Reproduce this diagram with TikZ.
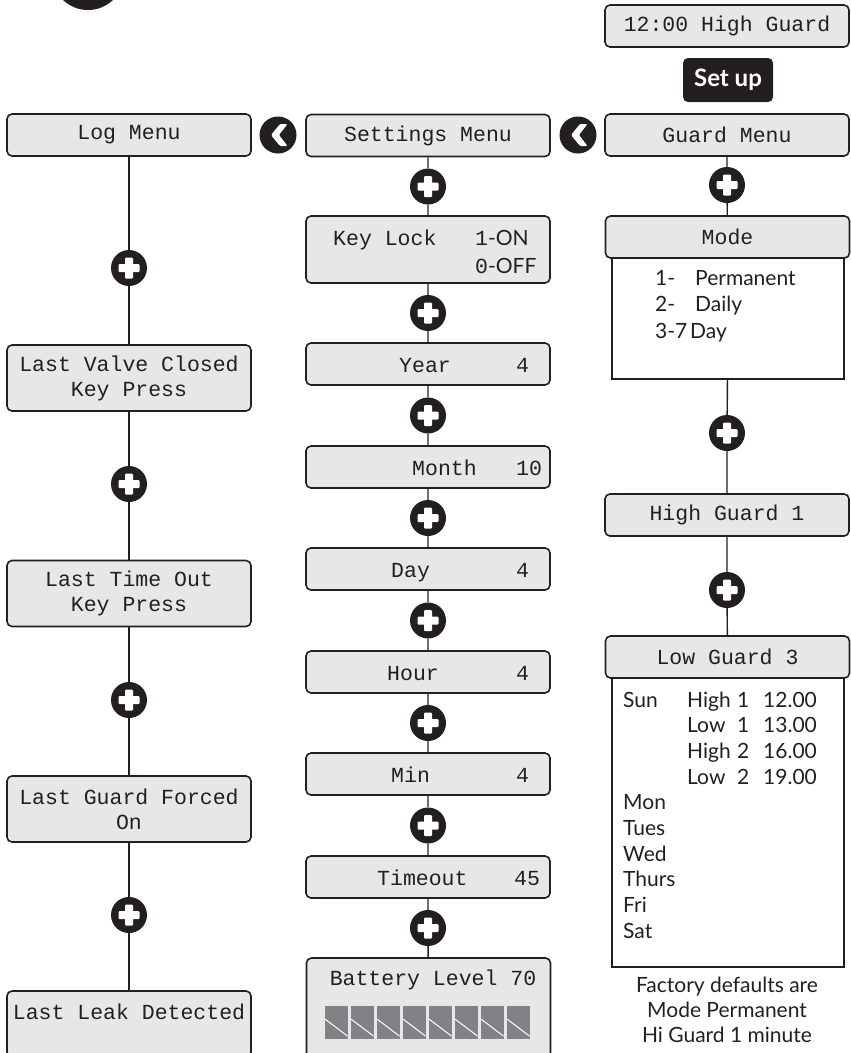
\documentclass[tikz,border=0pt]{standalone}
\usepackage{fontspec}
\setmainfont{Lato}
\newfontfamily\lcd{Liberation Mono}
\definecolor{lcdfill}{HTML}{E6E7E7}
\definecolor{ink}{HTML}{231F20}
\definecolor{barfill}{HTML}{808285}
\begin{document}
\begin{tikzpicture}[x=1pt,y=-1pt,
  lcdfont/.style={font=\lcd\fontsize{21.5}{25}\selectfont, text=ink},
  sansfont/.style={font=\fontsize{21}{25}\selectfont, text=ink},
  lcdbox/.style={draw=ink, fill=lcdfill, line width=1.6pt, rounded corners=5pt,
    minimum width=244pt, minimum height=42pt, inner sep=0pt, lcdfont, align=center},
  twoline/.style={lcdbox, minimum height=66pt},
  bodybox/.style={draw=ink, fill=white, line width=1.5pt, minimum width=232pt, inner sep=0pt},
  link/.style={draw=ink, line width=1.4pt},
  plusicon/.style={circle, fill=ink, minimum size=36pt, inner sep=0pt, path picture={
    \fill[white, rounded corners=1pt] ([shift={(-4pt,-10.5pt)}]path picture bounding box.center) rectangle ([shift={(4pt,10.5pt)}]path picture bounding box.center);
    \fill[white, rounded corners=1pt] ([shift={(-10.5pt,-4pt)}]path picture bounding box.center) rectangle ([shift={(10.5pt,4pt)}]path picture bounding box.center);
  }},
  backicon/.style={circle, fill=ink, minimum size=37pt, inner sep=0pt, path picture={
    \fill[white, rounded corners=1.2pt] ([shift={(-7pt,0pt)}]path picture bounding box.center)
      -- ([shift={(2pt,11pt)}]path picture bounding box.center)
      -- ([shift={(9.5pt,11pt)}]path picture bounding box.center)
      -- ([shift={(1pt,0pt)}]path picture bounding box.center)
      -- ([shift={(9.5pt,-11pt)}]path picture bounding box.center)
      -- ([shift={(2pt,-11pt)}]path picture bounding box.center) -- cycle;
  }},
  txt/.style={inner sep=0pt, anchor=base west},
  bat/.style={fill=barfill, minimum width=22.5pt, minimum height=33pt, inner sep=0pt, anchor=north west,
    path picture={\draw[white, line width=1pt] ([yshift=-13pt]path picture bounding box.north west) -- ([yshift=3pt]path picture bounding box.south east);}},
]
\useasboundingbox (0,0) rectangle (851,1053);
\clip (0,0) rectangle (851,1053);

% partial step circle at top
\node (stepcircle) [circle, fill=ink, minimum size=72pt, inner sep=0pt] at (88,-26) {};

% top right
\node (clock) [lcdbox] at (727,26) {12:00 High Guard};
\node (setup) [fill=ink, rounded corners=5pt, minimum width=90pt, minimum height=44pt, inner sep=0pt,
  text=white, font=\bfseries\fontsize{24}{26}\selectfont] at (728,80) {Set up};

% menus
\node (log) [lcdbox] at (129,135) {Log Menu};
\node (settings) [lcdbox] at (428,135.5) {Settings Menu};
\node (guard) [lcdbox] at (727,135) {Guard Menu};
\node (back1) [backicon] at (278,135) {};
\node (back2) [backicon] at (578,135) {};

% left column
\node (valve) [twoline] at (129,378) {Last Valve Closed\\Key Press};
\node (timeout) [twoline] at (129,593.5) {Last Time Out\\Key Press};
\node (forced) [twoline] at (129,809) {Last Guard Forced\\On};
\node (leak) [twoline] at (129,1024) {Last Leak Detected\\\mbox{}};
\node (lp1) [plusicon] at (129,268) {};
\node (lp2) [plusicon] at (129,484) {};
\node (lp3) [plusicon] at (129,700) {};
\node (lp4) [plusicon] at (129,915) {};
\draw[link] (log) -- (lp1) -- (valve) -- (lp2) -- (timeout) -- (lp3) -- (forced) -- (lp4) -- (leak);

% middle column
\node (keylock) [twoline, minimum height=67pt] at (428,249.5) {};
\node (keylocktxt) [txt, lcdfont] at (333,245) {Key Lock};
\node (keyon) [txt, lcdfont] at (475,245) {1\normalfont\fontsize{21}{24}\selectfont -ON};
\node (keyoff) [txt, lcdfont] at (475,273) {0\normalfont\fontsize{21}{24}\selectfont -OFF};
\node (year) [lcdbox] at (428,364) {};
\node (yeartxt) [txt, lcdfont] at (399,372) {Year};
\node (yearval) [txt, lcdfont] at (516,372) {4};
\node (month) [lcdbox] at (428,467) {};
\node (monthtxt) [txt, lcdfont] at (412,475) {Month};
\node (monthval) [txt, lcdfont] at (516,475) {10};
\node (day) [lcdbox] at (428,569) {};
\node (daytxt) [txt, lcdfont] at (391,577) {Day};
\node (dayval) [txt, lcdfont] at (516,577) {4};
\node (hour) [lcdbox] at (428,672) {};
\node (hourtxt) [txt, lcdfont] at (387,680) {Hour};
\node (hourval) [txt, lcdfont] at (516,680) {4};
\node (min) [lcdbox] at (428,774) {};
\node (mintxt) [txt, lcdfont] at (391,782) {Min};
\node (minval) [txt, lcdfont] at (516,782) {4};
\node (tout) [lcdbox] at (428,877) {};
\node (touttxt) [txt, lcdfont] at (377,885) {Timeout};
\node (toutval) [txt, lcdfont] at (514,885) {45};
\node (battery) [lcdbox, minimum height=110pt] at (428.5,1013) {};
\node (battxt) [lcdfont, inner sep=0pt] at (433,980) {Battery Level 70};
\foreach \i in {0,...,7} {
  \node (bar\i) [bat] at (325+26*\i,1006) {};
}
\node (mp1) [plusicon] at (428,186.5) {};
\node (mp2) [plusicon] at (428,313) {};
\node (mp3) [plusicon] at (428,415.5) {};
\node (mp4) [plusicon] at (428,518) {};
\node (mp5) [plusicon] at (428,620.5) {};
\node (mp6) [plusicon] at (428,723) {};
\node (mp7) [plusicon] at (428,825.5) {};
\node (mp8) [plusicon] at (428,928) {};
\draw[link] (settings) -- (mp1) -- (keylock) -- (mp2) -- (year) -- (mp3) -- (month) -- (mp4) -- (day)
  -- (mp5) -- (hour) -- (mp6) -- (min) -- (mp7) -- (tout) -- (mp8) -- (battery);

% right column
\node (modebody) [bodybox, minimum height=121pt] at (728,318.5) {};
\node (mode) [lcdbox] at (727.5,237) {Mode};
\node (m1n) [txt, sansfont] at (655,285) {1-};
\node (m1t) [txt, sansfont] at (695,285) {Permanent};
\node (m2n) [txt, sansfont] at (655,311.5) {2-};
\node (m2t) [txt, sansfont] at (695,311.5) {Daily};
\node (m3n) [txt, sansfont] at (655,338) {3-7};
\node (m3t) [txt, sansfont] at (690,338) {Day};
\node (high) [lcdbox] at (727,515) {High Guard 1};
\node (lowbody) [bodybox, minimum height=289pt] at (728,822.5) {};
\node (low) [lcdbox] at (727.5,657) {Low Guard 3};
\node (gp1) [plusicon] at (727,185) {};
\node (gp2) [plusicon] at (727,433) {};
\node (gp3) [plusicon] at (727,590) {};
\draw[link] (guard) -- (gp1) -- (mode);
\draw[link] (modebody) -- (gp2) -- (high) -- (gp3) -- (low);

% schedule
\node (sun) [txt, sansfont] at (623,707) {Sun};
\node (s1a) [txt, sansfont] at (687,707) {High};
\node (s1b) [txt, sansfont] at (737,707) {1};
\node (s1c) [txt, sansfont] at (763,707) {12.00};
\node (s2a) [txt, sansfont] at (687,732.7) {Low};
\node (s2b) [txt, sansfont] at (737,732.7) {1};
\node (s2c) [txt, sansfont] at (763,732.7) {13.00};
\node (s3a) [txt, sansfont] at (687,758.4) {High};
\node (s3b) [txt, sansfont] at (737,758.4) {2};
\node (s3c) [txt, sansfont] at (763,758.4) {16.00};
\node (s4a) [txt, sansfont] at (687,784.1) {Low};
\node (s4b) [txt, sansfont] at (737,784.1) {2};
\node (s4c) [txt, sansfont] at (763,784.1) {19.00};
\node (mon) [txt, sansfont] at (623,809.8) {Mon};
\node (tue) [txt, sansfont] at (623,835.5) {Tues};
\node (wed) [txt, sansfont] at (623,861.2) {Wed};
\node (thu) [txt, sansfont] at (623,886.9) {Thurs};
\node (fri) [txt, sansfont] at (623,912.6) {Fri};
\node (sat) [txt, sansfont] at (623,938.3) {Sat};

% factory defaults
\node (fd1) [sansfont, inner sep=0pt, anchor=base] at (727,992) {Factory defaults are};
\node (fd2) [sansfont, inner sep=0pt, anchor=base] at (727,1017) {Mode Permanent};
\node (fd3) [sansfont, inner sep=0pt, anchor=base] at (727,1042) {Hi Guard 1 minute};
\end{tikzpicture}
\end{document}
